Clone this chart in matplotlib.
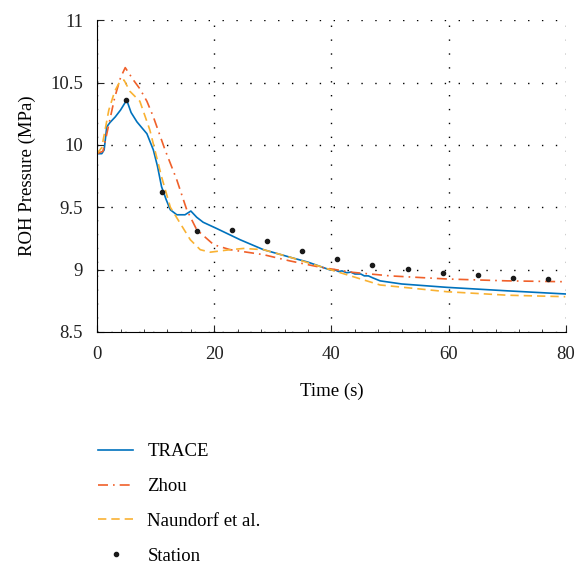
# ROH pressure transient: TRACE vs Zhou vs Naundorf vs station data
import matplotlib.pyplot as plt
from matplotlib.ticker import MultipleLocator

plt.rcParams['font.family'] = ['Liberation Serif', 'DejaVu Serif']

# TRACE (blue)
trace_t = [0, 0.8, 1.2, 1.65, 2.2, 3.1, 4.0, 5.05, 5.8, 6.8, 7.6, 8.5, 9.6, 10.3, 11.0, 11.8,
           12.5, 13.6, 15.0, 16.0, 17.0, 18.1, 20.4, 24.4, 28.4, 32.9, 36.0, 39.8, 40.5, 41.2,
           41.8, 42.6, 43.3, 44.0, 45.0, 45.6, 46.3, 47.0, 48.3, 52.0, 59.7, 70.0, 79.9]
trace_p = [9.93, 9.93, 9.96, 10.145, 10.18, 10.225, 10.28, 10.36, 10.26, 10.185, 10.14, 10.09, 9.96, 9.83, 9.665, 9.56,
           9.48, 9.44, 9.44, 9.47, 9.42, 9.38, 9.33, 9.24, 9.16, 9.10, 9.06, 8.997, 9.0, 8.985,
           8.99, 8.975, 8.98, 8.965, 8.965, 8.95, 8.95, 8.935, 8.91, 8.885, 8.858, 8.83, 8.805]

# Zhou (red dash-dot)
zhou_t = [0, 1.0, 1.8, 3.0, 4.0, 4.8, 6.2, 7.3, 8.5, 9.6, 11.6, 13.6, 15.3, 17.0, 19.9, 22.7,
          28.4, 32.9, 38.0, 43.7, 50.0, 59.7, 70.0, 79.9]
zhou_p = [9.93, 9.95, 10.12, 10.38, 10.54, 10.62, 10.52, 10.45, 10.35, 10.225, 9.96, 9.72, 9.48, 9.32, 9.20, 9.16,
          9.12, 9.07, 9.02, 8.978, 8.95, 8.925, 8.91, 8.903]

# Naundorf et al. (yellow dashed)
naun_t = [0, 0.8, 2.0, 3.0, 3.9, 4.6, 5.6, 7.3, 9.0, 11.0, 12.5, 14.2, 15.9, 17.6, 19.3, 22.7,
          25.0, 28.4, 32.9, 39.8, 48.3, 59.7, 70.0, 79.9]
naun_p = [9.93, 9.98, 10.28, 10.43, 10.51, 10.52, 10.43, 10.35, 10.12, 9.745, 9.50, 9.37, 9.24, 9.16, 9.14, 9.16,
          9.17, 9.16, 9.10, 9.0, 8.877, 8.823, 8.795, 8.783]

# Station measurements
station_t = [5, 11, 17, 23, 29, 35, 41, 47, 53, 59, 65, 71, 77]
station_p = [10.36, 9.62, 9.31, 9.32, 9.23, 9.147, 9.085, 9.04, 9.007, 8.973, 8.954, 8.935, 8.927]

fig = plt.figure(figsize=(5.78, 5.72), dpi=100)
ax = fig.add_axes([0.168, 0.4196, 0.811, 0.545])

l1, = ax.plot(trace_t, trace_p, color='#0072BD', lw=1.2, label='TRACE')
l2, = ax.plot(zhou_t, zhou_p, color='#F0602A', lw=1.2, ls=(0, (6, 3, 1, 3)), label='Zhou')
l3, = ax.plot(naun_t, naun_p, color='#F9B233', lw=1.2, ls=(0, (5, 3)), label='Naundorf et al.')
l4, = ax.plot(station_t, station_p, 'o', color='#1a1a1a', ms=3, ls='none', label='Station')

ax.set_xlim(0, 80)
ax.set_ylim(8.5, 11)
ax.set_xticks([0, 20, 40, 60, 80])
ax.xaxis.set_minor_locator(MultipleLocator(4))
ax.set_yticks([8.5, 9, 9.5, 10, 10.5, 11])
ax.set_yticklabels(['8.5', '9', '9.5', '10', '10.5', '11'])
ax.grid(True, color='black', ls=(0, (1, 9)), lw=1)
ax.spines['top'].set_visible(False)
ax.spines['right'].set_visible(False)
ax.tick_params(direction='in', length=5, labelsize=13.5, colors='#222222', pad=10)
ax.tick_params(axis='x', which='minor', direction='in', length=2.5, color='#222222')
ax.set_xlabel('Time (s)', fontsize=13.5, labelpad=14)
ax.set_ylabel('ROH Pressure (MPa)', fontsize=13.5, labelpad=10)

fig.legend(handles=[l1, l2, l3, l4], loc='upper left', bbox_to_anchor=(0.14, 0.255),
           frameon=False, fontsize=13.5, labelspacing=0.95, handlelength=1.9, handletextpad=0.75)

plt.savefig('out.png')
